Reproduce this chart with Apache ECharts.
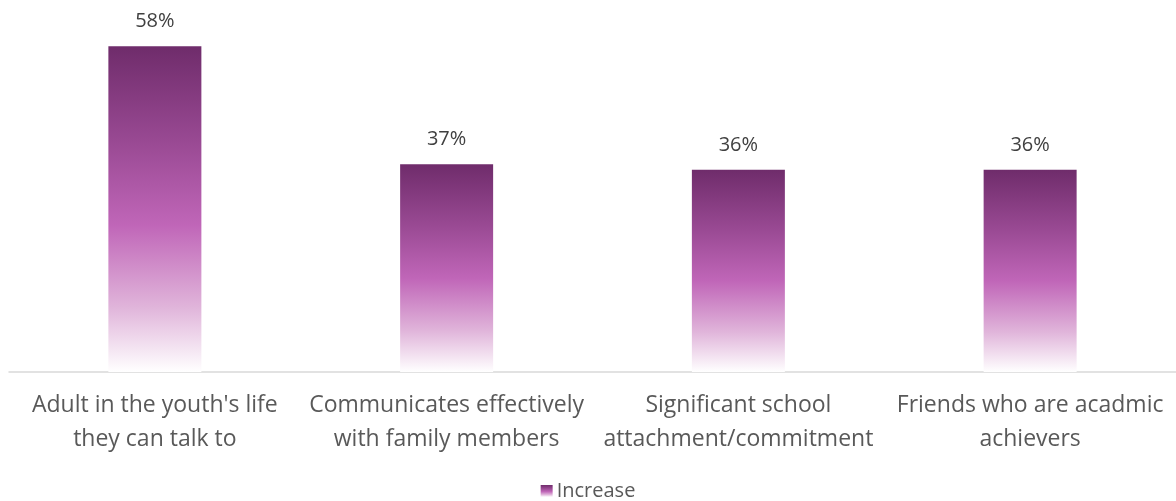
<!DOCTYPE html>
<html><head><meta charset="utf-8">
<script src="https://cdn.jsdelivr.net/npm/echarts@6/dist/echarts.min.js"></script>
<style>html,body{margin:0;padding:0;background:#fff}#c{width:1176px;height:501px}</style>
</head><body><div id="c"></div>
<script>
const categories = ["Adult in the youth's life\nthey can talk to", "Communicates effectively\nwith family members", "Significant school\nattachment/commitment", "Friends who are acadmic\nachievers"];
const values = [58, 37, 36, 36];
const seriesName = "Increase";
const grad = new echarts.graphic.LinearGradient(0,0,0,1,[
  {offset:0,color:'#6f2c6b'},
  {offset:0.3,color:'#9a4a94'},
  {offset:0.55,color:'#c066b8'},
  {offset:0.8,color:'#e0b4da'},
  {offset:1,color:'#ffffff'}
]);
const chart = echarts.init(document.getElementById('c'));
chart.setOption({
  animation:false,
  textStyle:{fontFamily:'Open Sans'},
  grid:{left:9,width:1172,top:35,height:337,containLabel:false},
  legend:{top:476,left:'center',itemWidth:12,itemHeight:12,icon:'rect',itemGap:4,
    textStyle:{fontSize:20,color:'#595959',fontFamily:'Open Sans',padding:[0,0,0,-1]}, data:[seriesName]},
  xAxis:{type:'category',data:categories,
    axisLine:{lineStyle:{color:'#d9d9d9',width:1.5}},axisTick:{show:false},
    axisLabel:{fontSize:23,color:'#595959',lineHeight:34,margin:16,interval:0}},
  yAxis:{type:'value',min:0,max:60,show:false,splitLine:{show:false}},
  series:[{name:seriesName,type:'bar',data:values,barWidth:93,
    itemStyle:{color:grad},
    label:{show:true,position:'top',distance:15,formatter:'{c}%',fontSize:20,color:'#404040'}}]
});
</script></body></html>
